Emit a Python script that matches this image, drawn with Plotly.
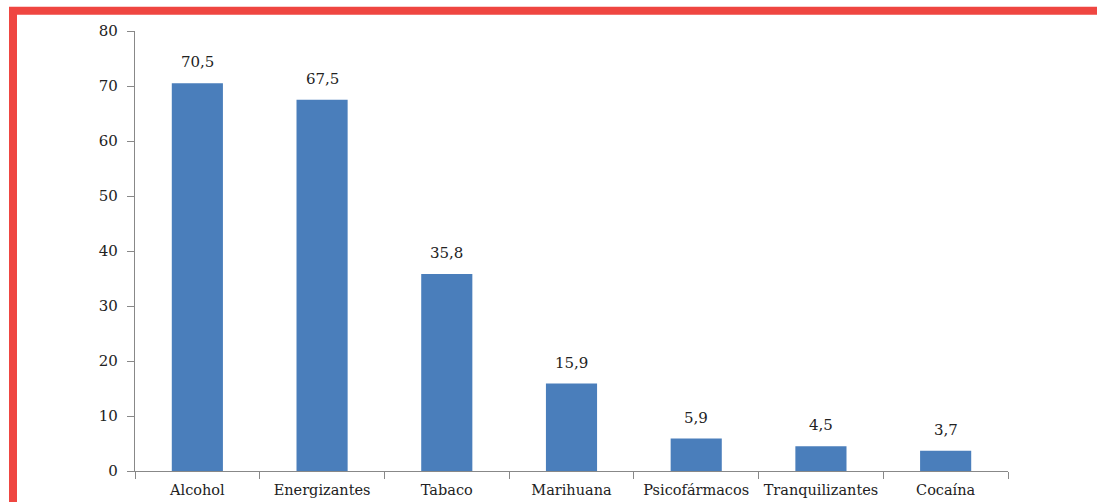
import plotly.graph_objects as go

categories = ["Alcohol", "Energizantes", "Tabaco", "Marihuana", "Psicofármacos", "Tranquilizantes", "Cocaína"]
values = [70.5, 67.5, 35.8, 15.9, 5.9, 4.5, 3.7]
y_ticks = [0, 10, 20, 30, 40, 50, 60, 70, 80]

W, H = 1097, 502
L, R = 135, 1008
T, B = 30.7, 471
pw, ph = R - L, B - T

FONT = "DejaVu Serif"

fig = go.Figure()
fig.add_trace(go.Bar(
    x=categories, y=values,
    marker=dict(color="#4a7ebb", line=dict(width=0)),
    width=0.41,
    hoverinfo="skip",
))

annotations = []
for c, v in zip(categories, values):
    annotations.append(dict(
        x=c, y=v, xref="x", yref="y",
        text=f"{v:.1f}".replace(".", ","),
        showarrow=False, yshift=21, yanchor="middle",
        font=dict(family=FONT, size=15, color="#222222"),
    ))

def px_x(p):
    return (p - L) / pw

def px_y(p):
    return (B - p) / ph

fig.update_layout(
    width=W, height=H,
    margin=dict(l=L, r=W - R, t=T, b=H - B, pad=0, autoexpand=False),
    paper_bgcolor="white", plot_bgcolor="white",
    showlegend=False,
    annotations=annotations,
    shapes=[dict(
        type="rect", xref="paper", yref="paper",
        x0=px_x(13), x1=px_x(1200), y0=px_y(600), y1=px_y(10.5),
        line=dict(color="#ef4641", width=8), fillcolor="rgba(0,0,0,0)",
        layer="above",
    )],
    xaxis=dict(
        showline=True, linecolor="#888888", linewidth=1.3,
        ticks="outside", ticklen=7, tickcolor="#888888", tickson="boundaries",
        tickfont=dict(family=FONT, size=14.5, color="#222222"),
        tickangle=0,
        ticklabelstandoff=5, automargin=False,
        showgrid=False, zeroline=False,
    ),
    yaxis=dict(
        range=[0, 80], tickvals=y_ticks,
        showline=True, linecolor="#888888", linewidth=1.3,
        ticks="outside", ticklen=7, tickcolor="#888888",
        tickfont=dict(family=FONT, size=15, color="#222222"),
        ticklabelstandoff=6, automargin=False,
        showgrid=False, zeroline=False,
    ),
)

fig.write_html("out.html")
